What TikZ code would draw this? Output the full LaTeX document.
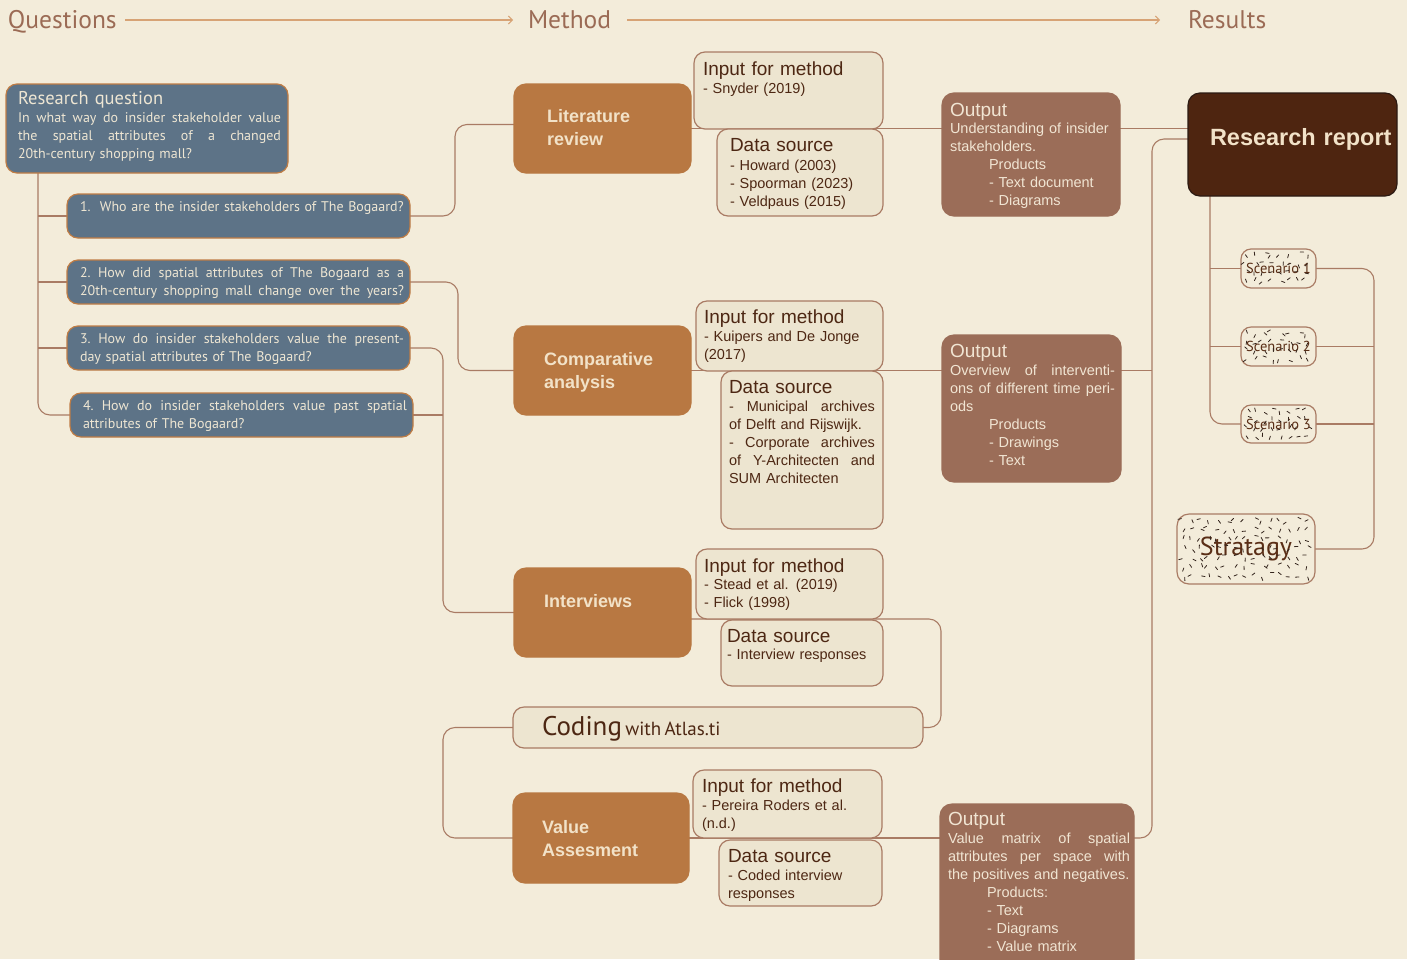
\documentclass[tikz,border=0pt]{standalone}
\usepackage{fontspec}
\setmainfont{Liberation Sans}
\newfontfamily\myr{PT Sans}
\usetikzlibrary{arrows.meta}
\pgfdeclarelayer{bottom}
\pgfdeclarelayer{background}
\pgfsetlayers{bottom,background,main}
\definecolor{bg}{HTML}{F3ECDA}
\definecolor{hdrtext}{HTML}{9B6B55}
\definecolor{hdrline}{HTML}{D7A375}
\definecolor{qfill}{HTML}{5D7387}
\definecolor{qborder}{HTML}{C07D45}
\definecolor{qtext}{HTML}{EEE6D3}
\definecolor{mfill}{HTML}{B87842}
\definecolor{mtext}{HTML}{F2E2C8}
\definecolor{ibfill}{HTML}{EDE5D0}
\definecolor{ibborder}{HTML}{A97B64}
\definecolor{ibtext}{HTML}{4D2713}
\definecolor{ofill}{HTML}{9B6D58}
\definecolor{otext}{HTML}{F1E5D3}
\definecolor{rrfill}{HTML}{4E2510}
\definecolor{rrborder}{HTML}{2B1A12}
\definecolor{conncol}{HTML}{A97B64}
\definecolor{speckcol}{HTML}{33241C}
\definecolor{sctext}{HTML}{5A2E16}
\newcommand\jl[2]{\makebox[#1pt][s]{\frenchspacing\spaceskip=0pt\xspaceskip=0pt #2}}
\newcommand\fntHdr{\myr\fontsize{25.5}{30}\selectfont}
\newcommand\fntQt{\myr\fontsize{18.5}{22}\selectfont}
\newcommand\fntQ{\myr\fontsize{14}{18}\selectfont}
\newcommand\fntM{\bfseries\fontsize{18}{23.5}\selectfont}
\newcommand\fntT{\fontsize{19}{22}\selectfont}
\newcommand\fntS{\fontsize{14.5}{18}\selectfont}
\newcommand\fntR{\bfseries\fontsize{23.5}{28}\selectfont}
\newcommand\fntSc{\myr\fontsize{14.5}{16}\selectfont}
\newcommand\speckgrid[6]{%
  \foreach \i in {0,...,#3}{\foreach \j in {0,...,#4}{%
    \pgfmathsetmacro\spx{#1+(\i+0.1+0.6*rnd)*#5}%
    \pgfmathsetmacro\spy{#2+(\j+0.1+0.6*rnd)*#6}%
    \pgfmathsetmacro\spa{rnd*180}%
    \draw[speck] (\spx,\spy) -- ++(\spa:3.5);%
  }}%
}
\begin{document}
\begin{tikzpicture}[x=1pt,y=-1pt,
  box/.style={rounded corners=11pt, line width=1.2pt, inner sep=0pt, outer sep=0pt, anchor=north west},
  qbox/.style={box, fill=qfill, draw=qborder},
  mbox/.style={box, fill=mfill, draw=mfill, rounded corners=12pt},
  ibox/.style={box, fill=ibfill, draw=ibborder},
  obox/.style={box, fill=ofill, draw=ofill, rounded corners=12pt},
  rbox/.style={box, fill=rrfill, draw=rrborder, rounded corners=12pt},
  sbox/.style={box, anchor=center, fill=bg, draw=ibborder, rounded corners=10pt, text=sctext, font=\fntSc},
  conn/.style={draw=conncol, line width=1.1pt, rounded corners=12pt},
  harrow/.style={draw=hdrline, line width=1.5pt, -{Straight Barb[length=4pt,width=8pt,line width=1pt]}},
  txt/.style={inner sep=0pt, outer sep=0pt, anchor=base west, align=left, text width=#1pt},
  txt/.default=300,
  speck/.style={draw=speckcol, line width=0.8pt, line cap=round}]
\begin{pgfonlayer}{bottom}
\fill[bg] (0,0) rectangle (1407,959);
\end{pgfonlayer}
\useasboundingbox (0,0) rectangle (1407,959);
\pgfmathsetseed{4242}

% header
\node[txt=150, font=\fntHdr, text=hdrtext] (hq) at (8,28) {Questions};
\node[txt=150, font=\fntHdr, text=hdrtext] (hm) at (528,28) {Method};
\node[txt=150, font=\fntHdr, text=hdrtext] (hres) at (1188,28) {Results};
\coordinate (a1s) at (125,20);
\coordinate (a1e) at (513,20);
\coordinate (a2s) at (627,20);
\coordinate (a2e) at (1160,20);
\draw[harrow] (a1s) -- (a1e);
\draw[harrow] (a2s) -- (a2e);

% question boxes
\node[qbox, minimum width=282pt, minimum height=89pt] (rq) at (6,84) {};
\node[qbox, minimum width=343pt, minimum height=44pt] (q1) at (67,194) {};
\node[qbox, minimum width=343pt, minimum height=44pt] (q2) at (67,260) {};
\node[qbox, minimum width=343pt, minimum height=44pt] (q3) at (67,326) {};
\node[qbox, minimum width=343pt, minimum height=44pt] (q4) at (70,393) {};
\node[txt, font=\fntQt, text=qtext] (rqt) at (18,104) {Research question};
\node[txt=275, font=\fntQ, text=qtext] (rqb) at (18,122) {\jl{263}{In what way do insider stakeholder value}\\\jl{263}{the spatial attributes of a changed}\\20th-century shopping mall?};
\node[txt=340, font=\fntQ, text=qtext] (q1t) at (80,211) {1.\ \ Who are the insider stakeholders of The Bogaard?};
\node[txt=340, font=\fntQ, text=qtext] (q2t) at (80,277) {\jl{324}{2. How did spatial attributes of The Bogaard as a}\\\jl{324}{20th-century shopping mall change over the years?}};
\node[txt=340, font=\fntQ, text=qtext] (q3t) at (80,343) {\jl{324}{3. How do insider stakeholders value the present-}\\day spatial attributes of The Bogaard?};
\node[txt=340, font=\fntQ, text=qtext] (q4t) at (83,410) {\jl{324}{4. How do insider stakeholders value past spatial}\\attributes of The Bogaard?};

% method boxes
\node[mbox, minimum width=177pt, minimum height=89pt] (lr) at (514,84) {};
\node[mbox, minimum width=177pt, minimum height=89pt] (ca) at (514,326) {};
\node[mbox, minimum width=177pt, minimum height=89pt] (iv) at (514,568) {};
\node[mbox, minimum width=176pt, minimum height=90pt] (va) at (513,793) {};
\node[txt=160, font=\fntM, text=mtext] (lrt) at (547,122) {Literature\\review};
\node[txt=160, font=\fntM, text=mtext] (cat) at (544,365) {Comparative\\analysis};
\node[txt=160, font=\fntM, text=mtext] (ivt) at (544,607) {Interviews};
\node[txt=160, font=\fntM, text=mtext] (vat) at (542,833) {Value\\Assesment};

% input / data boxes
\node[ibox, minimum width=189pt, minimum height=77pt] (lri) at (694,52) {};
\node[ibox, minimum width=166pt, minimum height=87pt] (lrd) at (717,129) {};
\node[ibox, minimum width=187pt, minimum height=70pt] (cai) at (696,301) {};
\node[ibox, minimum width=162pt, minimum height=158pt] (cad) at (721,371) {};
\node[ibox, minimum width=187pt, minimum height=70pt] (ivi) at (696,549) {};
\node[ibox, minimum width=162pt, minimum height=66pt] (ivd) at (721,620) {};
\node[ibox, minimum width=189pt, minimum height=68pt] (vai) at (693,770) {};
\node[ibox, minimum width=163pt, minimum height=66pt] (vad) at (719,840) {};
\node[ibox, minimum width=410pt, minimum height=41pt] (cod) at (513,707) {};

\node[txt=180, font=\fntT, text=ibtext] (lrit) at (703,75) {Input for method};
\node[txt=180, font=\fntS, text=ibtext] (lris) at (703,93) {- Snyder (2019)};
\node[txt=150, font=\fntT, text=ibtext] (lrdt) at (730,151) {Data source};
\node[txt=150, font=\fntS, text=ibtext] (lrds) at (730,170) {- Howard (2003)\\- Spoorman (2023)\\- Veldpaus (2015)};
\node[txt=180, font=\fntT, text=ibtext] (cait) at (704,323) {Input for method};
\node[txt=180, font=\fntS, text=ibtext] (cais) at (704,341) {- Kuipers and De Jonge\\(2017)};
\node[txt=150, font=\fntT, text=ibtext] (cadt) at (729,393) {Data source};
\node[txt=150, font=\fntS, text=ibtext] (cads) at (729,411) {\jl{146}{- Municipal archives}\\of Delft and Rijswijk.\\\jl{146}{- Corporate archives}\\\jl{146}{of Y-Architecten and}\\SUM Architecten};
\node[txt=180, font=\fntT, text=ibtext] (ivit) at (704,572) {Input for method};
\node[txt=180, font=\fntS, text=ibtext] (ivis) at (704,589) {- Stead et al. (2019)\\- Flick (1998)};
\node[txt=150, font=\fntT, text=ibtext] (ivdt) at (727,642) {Data source};
\node[txt=150, font=\fntS, text=ibtext] (ivds) at (727,659) {- Interview responses};
\node[txt=180, font=\fntT, text=ibtext] (vait) at (702,792) {Input for method};
\node[txt=180, font=\fntS, text=ibtext] (vais) at (702,810) {- Pereira Roders et al.\\(n.d.)};
\node[txt=150, font=\fntT, text=ibtext] (vadt) at (728,862) {Data source};
\node[txt=150, font=\fntS, text=ibtext] (vads) at (728,880) {- Coded interview\\responses};
\node[txt=340, text=ibtext] (codt) at (542,735) {{\myr\fontsize{27}{30}\selectfont Coding} {\myr\fontsize{19}{22}\selectfont with Atlas.ti}};

% output boxes
\node[obox, minimum width=178pt, minimum height=123pt] (olr) at (942,93) {};
\node[obox, minimum width=179pt, minimum height=147pt] (oca) at (942,335) {};
\node[obox, minimum width=194pt, minimum height=170pt] (ova) at (940,804) {};
\node[txt=170, font=\fntT, text=otext] (olrt) at (950,116) {Output};
\node[txt=170, font=\fntS, text=otext] (olrb) at (950,133) {Understanding of insider\\stakeholders.\\\hspace*{39pt}Products\\\hspace*{39pt}- Text document\\\hspace*{39pt}- Diagrams};
\node[txt=170, font=\fntT, text=otext] (ocat) at (950,357) {Output};
\node[txt=170, font=\fntS, text=otext] (ocab) at (950,375) {\jl{165}{Overview of interventi-}\\\jl{165}{ons of different time peri-}\\ods\\\hspace*{39pt}Products\\\hspace*{39pt}- Drawings\\\hspace*{39pt}- Text};
\node[txt=190, font=\fntT, text=otext] (ovat) at (948,825) {Output};
\node[txt=190, font=\fntS, text=otext] (ovab) at (948,843) {\jl{182}{Value matrix of spatial}\\\jl{182}{attributes per space with}\\the positives and negatives.\\\hspace*{39pt}Products:\\\hspace*{39pt}- Text\\\hspace*{39pt}- Diagrams\\\hspace*{39pt}- Value matrix};

% results
\node[rbox, minimum width=209pt, minimum height=103pt] (rr) at (1188,93) {};
\node[txt=200, font=\fntR, text=mtext] (rrt) at (1210,145) {Research report};
\node[sbox, minimum width=75pt, minimum height=39pt] (s1) at (1278.5,268.5) {Scenario 1};
\node[sbox, minimum width=75pt, minimum height=39pt] (s2) at (1278.5,346.5) {Scenario 2};
\node[sbox, minimum width=75pt, minimum height=38pt] (s3) at (1278.5,424) {Scenario 3};
\node[sbox, minimum width=138pt, minimum height=70pt, rounded corners=12pt, font={\myr\fontsize{26}{30}\selectfont}] (st) at (1246,549) {Stratagy};
\speckgrid{1243}{251}{7}{3}{8.6}{8.5}
\speckgrid{1243}{329}{7}{3}{8.6}{8.5}
\speckgrid{1243}{407}{7}{3}{8.6}{8.3}
\speckgrid{1179}{516}{14}{6}{8.8}{9.2}

% connectors
\begin{pgfonlayer}{background}
\coordinate (lv) at (38,173);
\coordinate (vq) at (443,350);
\coordinate (rvb) at (1152,838);
\coordinate (ivr) at (941,619);
\coordinate (rs) at (1210,196);
\coordinate (sr) at (1374,549);
\draw[conn] (lv) |- (q4.west);
\draw[conn] (lv |- q1.west) -- (q1.west);
\draw[conn] (lv |- q2.west) -- (q2.west);
\draw[conn] (lv |- q3.west) -- (q3.west);
\draw[conn] (q1.east) -- ++(45,0) |- ([yshift=4pt]lr.west);
\draw[conn] (q2.east) -- ++(48,0) |- (ca.west);
\draw[conn] (q3.east) -- (vq |- q3.east) |- (iv.west);
\draw[conn] (q4.east) -- (vq |- q4.east);
\draw[conn] (lr.east) -- (lr.east -| olr.west);
\draw[conn] (olr.east |- lr.east) -- (rr.west |- lr.east);
\draw[conn] ([yshift=5.5pt]rr.west) -| (rvb) -- (ova.east |- rvb);
\draw[conn] (ca.east) -- (ca.east -| oca.west);
\draw[conn] (oca.east |- ca.east) -- (rvb |- ca.east);
\draw[conn] ([yshift=-6.5pt]iv.east) -| (ivr |- cod.east) -- (cod.east);
\draw[conn] (cod.west) -- (vq |- cod.west) |- (va.west);
\draw[conn] (va.east) -- (va.east -| ova.west);
\draw[conn] (rs) |- (s3.west);
\draw[conn] (rs |- s1.west) -- (s1.west);
\draw[conn] (rs |- s2.west) -- (s2.west);
\draw[conn] (s1.east) -| (sr) -- (st.east);
\draw[conn] (s2.east) -- (sr |- s2.east);
\draw[conn] (s3.east) -- (sr |- s3.east);
\end{pgfonlayer}
\end{tikzpicture}
\end{document}
